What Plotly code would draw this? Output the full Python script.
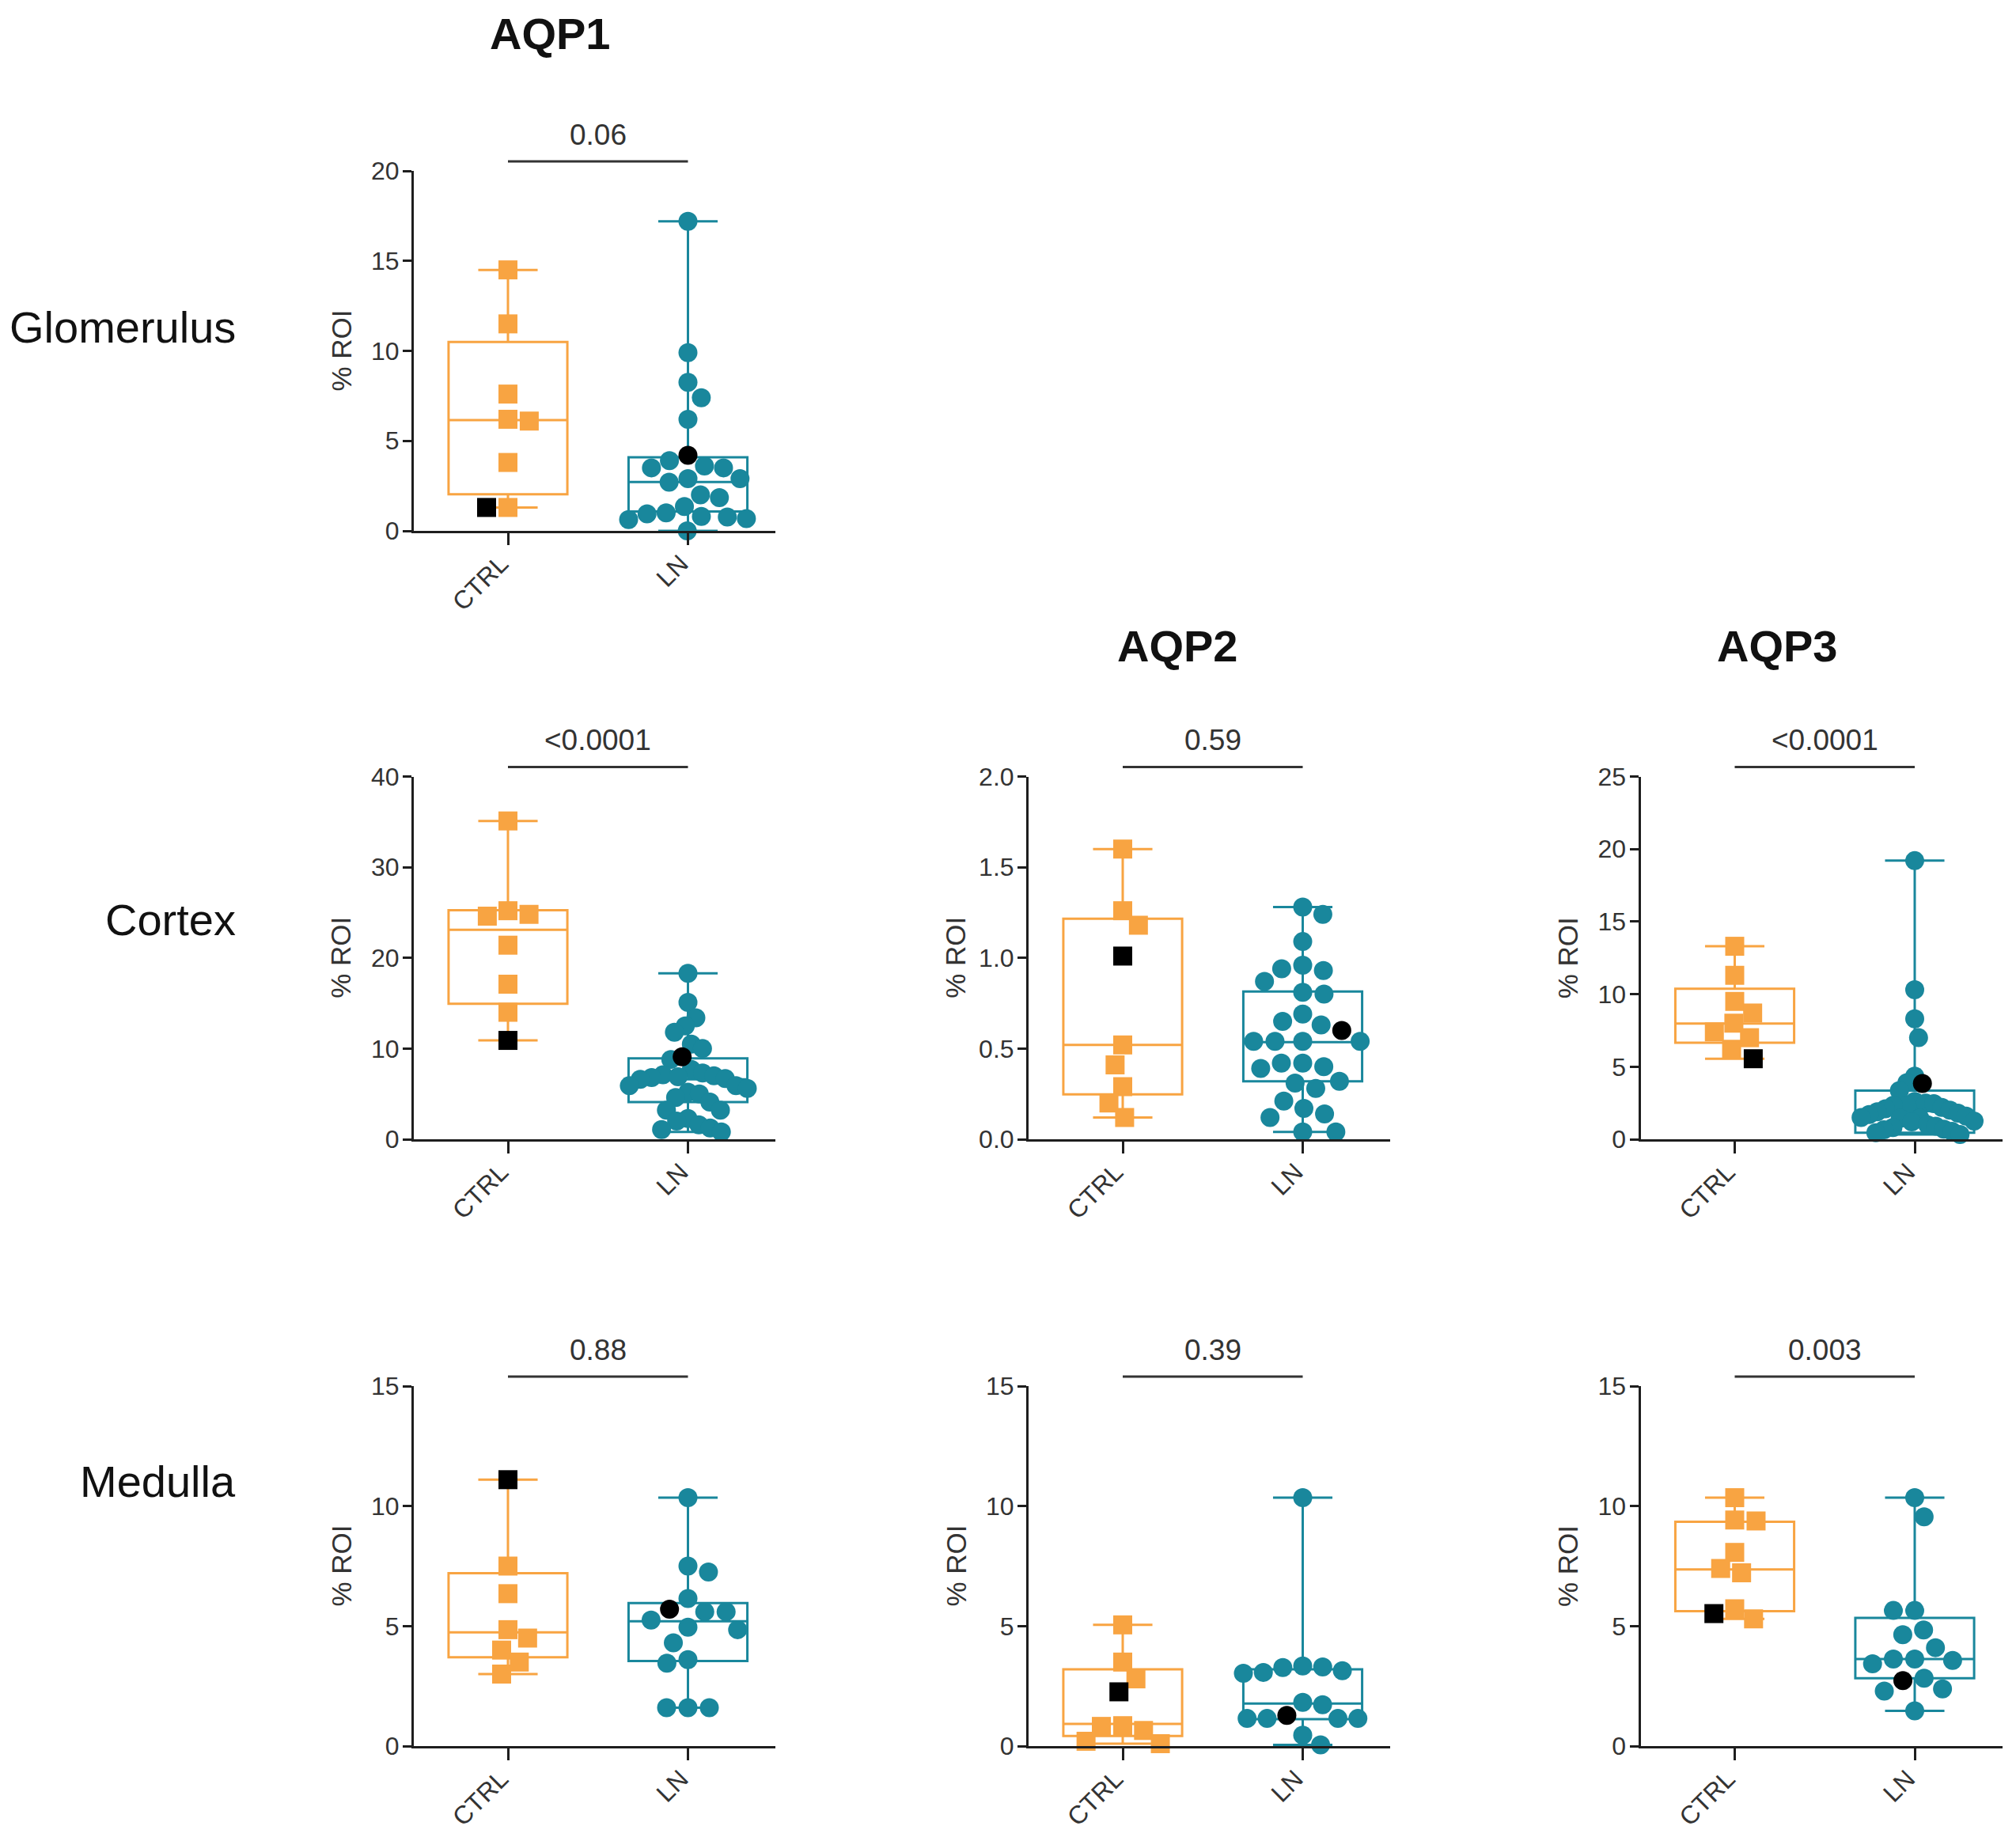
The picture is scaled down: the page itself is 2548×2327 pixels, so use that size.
import numpy as np
import plotly.graph_objects as go

# =========================
# DATA (% ROI)
# =========================
groups = ["CTRL", "LN"]

# Glomerulus - AQP1
glo_aqp1_ctrl = [14.5, 11.5, 7.6, 6.2, 6.1, 3.8, 1.3]
glo_aqp1_ctrl_black = 1.3
glo_aqp1_ln = [17.2, 9.9, 8.25, 7.4, 6.2, 3.9, 3.6, 3.5, 3.5, 2.9, 2.9, 2.7, 2.0, 1.85,
               1.35, 1.0, 0.95, 0.8, 0.77, 0.68, 0.63, 0.0]
glo_aqp1_ln_black = 4.2
glo_aqp1_box = [[2.03, 6.15, 10.5], [1.08, 2.71, 4.09]]   # q1, median, q3

# Cortex - AQP1
ctx_aqp1_ctrl = [35.1, 25.2, 24.8, 24.6, 21.4, 17.1, 14.0]
ctx_aqp1_ctrl_black = 10.9
ctx_aqp1_ln = [18.3, 15.1, 13.4, 12.5, 11.8, 10.5, 10.0, 8.8, 7.7, 7.3, 7.1, 7.0, 6.9, 6.8,
               6.7, 6.6, 5.9, 5.9, 5.6, 5.2, 5.0, 4.6, 4.1, 3.2, 3.2, 2.3, 2.0, 1.6, 1.25,
               1.07, 0.8]
ctx_aqp1_ln_black = 9.1
ctx_aqp1_box = [[14.93, 23.1, 25.25], [4.1, 6.6, 8.93]]

# Cortex - AQP2
ctx_aqp2_ctrl = [1.6, 1.26, 1.18, 0.52, 0.41, 0.29, 0.2, 0.12]
ctx_aqp2_ctrl_black = 1.01
ctx_aqp2_ln = [1.28, 1.24, 1.09, 0.96, 0.94, 0.93, 0.87, 0.81, 0.80, 0.69, 0.65, 0.63,
               0.54, 0.54, 0.54, 0.54, 0.42, 0.42, 0.40, 0.39, 0.32, 0.31, 0.28, 0.21,
               0.17, 0.14, 0.12, 0.04, 0.04]
ctx_aqp2_ln_black = 0.60
ctx_aqp2_box = [[0.248, 0.52, 1.216], [0.319, 0.535, 0.815]]

# Cortex - AQP3
ctx_aqp3_ctrl = [13.3, 11.3, 9.5, 8.7, 8.0, 7.4, 7.0, 6.2]
ctx_aqp3_ctrl_black = 5.55
ctx_aqp3_ln = [19.2, 10.3, 8.3, 7.0, 4.35, 3.9, 3.35, 2.6, 2.5, 2.45, 2.35, 2.35, 2.2, 2.1,
               2.0, 1.9, 1.8, 1.7, 1.6, 1.5, 1.45, 1.45, 1.25, 1.2, 1.0, 0.9, 0.8, 0.7,
               0.65, 0.55, 0.45, 0.33]
ctx_aqp3_ln_black = 3.85
ctx_aqp3_box = [[6.65, 7.97, 10.38], [0.45, 1.95, 3.35]]

# Medulla - AQP1
med_aqp1_ctrl = [7.5, 6.35, 4.85, 4.5, 4.0, 3.5, 3.0]
med_aqp1_ctrl_black = 11.1
med_aqp1_ln = [10.35, 7.5, 7.25, 6.15, 5.6, 5.6, 5.25, 4.95, 4.85, 4.3, 3.6, 3.45, 1.6, 1.6, 1.6]
med_aqp1_ln_black = 5.7
med_aqp1_box = [[3.7, 4.74, 7.2], [3.54, 5.2, 5.96]]

# Medulla - AQP2
med_aqp2_ctrl = [5.05, 3.5, 2.8, 0.85, 0.82, 0.65, 0.2, 0.1]
med_aqp2_ctrl_black = 2.26
med_aqp2_ln = [10.35, 3.34, 3.3, 3.27, 3.14, 3.07, 3.03, 1.82, 1.72, 1.15, 1.15, 1.15, 1.15,
               0.45, 0.05]
med_aqp2_ln_black = 1.28
med_aqp2_box = [[0.42, 0.92, 3.2], [1.12, 1.77, 3.2]]

# Medulla - AQP3
med_aqp3_ctrl = [10.35, 9.42, 9.38, 8.07, 7.4, 7.22, 5.72, 5.3]
med_aqp3_ctrl_black = 5.52
med_aqp3_ln = [10.35, 9.55, 5.65, 5.65, 4.84, 4.64, 4.1, 3.63, 3.63, 3.57, 3.43, 2.83, 2.38,
               2.29, 1.47]
med_aqp3_ln_black = 2.73
med_aqp3_box = [[5.62, 7.36, 9.35], [2.83, 3.63, 5.34]]

p_values = ["0.06", "<0.0001", "0.59", "<0.0001", "0.88", "0.39", "0.003"]
row_labels = ["Glomerulus", "Cortex", "Medulla"]
col_titles = ["AQP1", "AQP2", "AQP3"]

# =========================
# STYLE / GEOMETRY
# =========================
PAGE_W, PAGE_H = 2548, 2327
OFF = 8                               # default body margin of the html page
W, H = PAGE_W - 2 * OFF, PAGE_H - 2 * OFF
ORANGE = "#F8A442"
TEAL = "#19879C"
INK = "#1E1E1E"
TXT = "#333333"
FONT = "Liberation Sans, Arial, sans-serif"


def px_x(p):   # page px -> paper x
    return (p - OFF) / W


def px_y(p):   # page px (from top) -> paper y
    return 1 - (p - OFF) / H


col_x0 = [523, 1300, 2073.5]      # y-axis line position (page px)
col_w = 457
row_top = [216, 981.5, 1752]
row_h = [455, 458.5, 455]
cat_px = 227.5                     # px between CTRL and LN
x_range = [-119 / cat_px, 338 / cat_px]
MSIZE = 24

# (row, col, ctrl, ctrl_black, ln, ln_black, box, ymax, dtick, tickformat)
panels = [
    (0, 0, glo_aqp1_ctrl, glo_aqp1_ctrl_black, glo_aqp1_ln, glo_aqp1_ln_black, glo_aqp1_box, 20, 5, "d"),
    (1, 0, ctx_aqp1_ctrl, ctx_aqp1_ctrl_black, ctx_aqp1_ln, ctx_aqp1_ln_black, ctx_aqp1_box, 40, 10, "d"),
    (1, 1, ctx_aqp2_ctrl, ctx_aqp2_ctrl_black, ctx_aqp2_ln, ctx_aqp2_ln_black, ctx_aqp2_box, 2.0, 0.5, ".1f"),
    (1, 2, ctx_aqp3_ctrl, ctx_aqp3_ctrl_black, ctx_aqp3_ln, ctx_aqp3_ln_black, ctx_aqp3_box, 25, 5, "d"),
    (2, 0, med_aqp1_ctrl, med_aqp1_ctrl_black, med_aqp1_ln, med_aqp1_ln_black, med_aqp1_box, 15, 5, "d"),
    (2, 1, med_aqp2_ctrl, med_aqp2_ctrl_black, med_aqp2_ln, med_aqp2_ln_black, med_aqp2_box, 15, 5, "d"),
    (2, 2, med_aqp3_ctrl, med_aqp3_ctrl_black, med_aqp3_ln, med_aqp3_ln_black, med_aqp3_box, 15, 5, "d"),
]


def swarm(vals, ppu_y, diam=27, max_half=75):
    """compact beeswarm: x offsets (data units) so that markers do not overlap"""
    vals = np.asarray(vals, float)
    order = np.argsort(-vals, kind="stable")
    xs = np.zeros(len(vals))
    placed = []
    for i in order:
        y = vals[i] * ppu_y
        cands = [0.0]
        for px, py in placed:
            dy = y - py
            if abs(dy) < diam:
                dx = np.sqrt(diam ** 2 - dy ** 2)
                cands += [px - dx, px + dx]
        bias = sum(p[0] for p in placed)
        sign = -1 if bias > 0 else 1
        cands.sort(key=lambda c: (round(abs(c), 3), -sign * c))
        for c in cands:
            if all((c - px) ** 2 + (y - py) ** 2 >= diam ** 2 - 1e-6 for px, py in placed):
                xs[i] = c
                placed.append((c, y))
                break
    m = np.abs(xs).max()
    if m > max_half:
        xs *= max_half / m
    return xs / cat_px


fig = go.Figure()
annotations = []
shapes = []
layout_axes = {}

for k, (r, c, ctrl, ctrl_b, ln, ln_b, box, ymax, dtick, tfmt) in enumerate(panels, start=1):
    sx = "" if k == 1 else str(k)
    xref, yref = "x" + sx, "y" + sx
    x0 = col_x0[c]
    top, h = row_top[r], row_h[r]
    ppu_y = h / ymax

    layout_axes["xaxis" + sx] = dict(
        domain=[px_x(x0), px_x(x0 + col_w)], range=x_range, anchor=yref,
        tickmode="array", tickvals=[0, 1], ticktext=groups, tickangle=-45,
        ticks="outside", ticklen=15, tickwidth=3, tickcolor=INK,
        ticklabelstandoff=-8, ticklabelshift=-9,
        showline=True, linewidth=3, linecolor=INK, showgrid=False, zeroline=False,
        tickfont=dict(family=FONT, size=32, color=TXT), automargin=False, fixedrange=True,
    )
    layout_axes["yaxis" + sx] = dict(
        domain=[px_y(top + h), px_y(top)], range=[0, ymax], anchor=xref,
        tick0=0, dtick=dtick, tickformat=tfmt,
        ticks="outside", ticklen=11, tickwidth=3, tickcolor=INK, ticklabelstandoff=-2,
        showline=True, linewidth=3, linecolor=INK, showgrid=False, zeroline=False,
        tickfont=dict(family=FONT, size=32, color=TXT), automargin=False, fixedrange=True,
    )

    for gi, (vals, black, color, symbol) in enumerate(
            [(ctrl, ctrl_b, ORANGE, "square"), (ln, ln_b, TEAL, "circle")]):
        allv = list(vals) + [black]
        q1, med, q3 = box[gi]
        fig.add_trace(go.Box(
            x=[gi], q1=[q1], median=[med], q3=[q3],
            lowerfence=[min(allv)], upperfence=[max(allv)],
            orientation="v", width=0.66, whiskerwidth=0.5,
            line=dict(color=color, width=3), fillcolor="rgba(0,0,0,0)",
            boxpoints=False, xaxis=xref, yaxis=yref, hoverinfo="skip",
        ))
        offs = swarm(allv, ppu_y)
        fig.add_trace(go.Scatter(
            x=gi + offs[:-1], y=vals, mode="markers", xaxis=xref, yaxis=yref,
            marker=dict(symbol=symbol, size=MSIZE, color=color, line=dict(width=0)),
            cliponaxis=False,
        ))
        fig.add_trace(go.Scatter(
            x=[gi + offs[-1]], y=[black], mode="markers", xaxis=xref, yaxis=yref,
            marker=dict(symbol=symbol, size=MSIZE, color="black", line=dict(width=0)),
            cliponaxis=False,
        ))

    # p-value bracket
    shapes.append(dict(type="line", xref=xref, yref="paper", x0=0, x1=1,
                       y0=px_y(top - 12), y1=px_y(top - 12),
                       line=dict(color=TXT, width=3)))
    annotations.append(dict(text=p_values[k - 1], xref=xref, yref="paper", x=0.5,
                            y=px_y(top - 46), showarrow=False, yanchor="middle",
                            font=dict(family=FONT, size=37, color=TXT)))
    # y-axis title
    annotations.append(dict(text="% ROI", xref="paper", yref="paper", x=px_x(x0 - 92),
                            y=px_y(top + h / 2), textangle=-90, showarrow=False,
                            xanchor="center", yanchor="middle",
                            font=dict(family=FONT, size=35, color=TXT)))

# row labels
row_label_y = [414, 1162, 1872]
for lab, yy in zip(row_labels, row_label_y):
    annotations.append(dict(text=lab, xref="paper", yref="paper", x=px_x(300), y=px_y(yy),
                            xanchor="right", yanchor="middle", showarrow=False,
                            font=dict(family=FONT, size=56, color="#111111")))

# column titles (AQP1 sits at the very top: anchor its box to the top edge)
title_pos = [(695, 10, "top"), (1488, 817, "middle"), (2246, 817, "middle")]
for t, (tx, ty, anc) in zip(col_titles, title_pos):
    annotations.append(dict(text="<b>" + t + "</b>", xref="paper", yref="paper",
                            x=px_x(tx), y=px_y(ty), xanchor="center", yanchor=anc,
                            borderpad=0, showarrow=False,
                            font=dict(family=FONT, size=56, color="#111111")))

fig.update_layout(
    width=W, height=H, margin=dict(l=0, r=0, t=0, b=0),
    paper_bgcolor="white", plot_bgcolor="white",
    showlegend=False, boxmode="overlay",
    annotations=annotations, shapes=shapes,
    **layout_axes,
)

fig.write_html("out.html")
